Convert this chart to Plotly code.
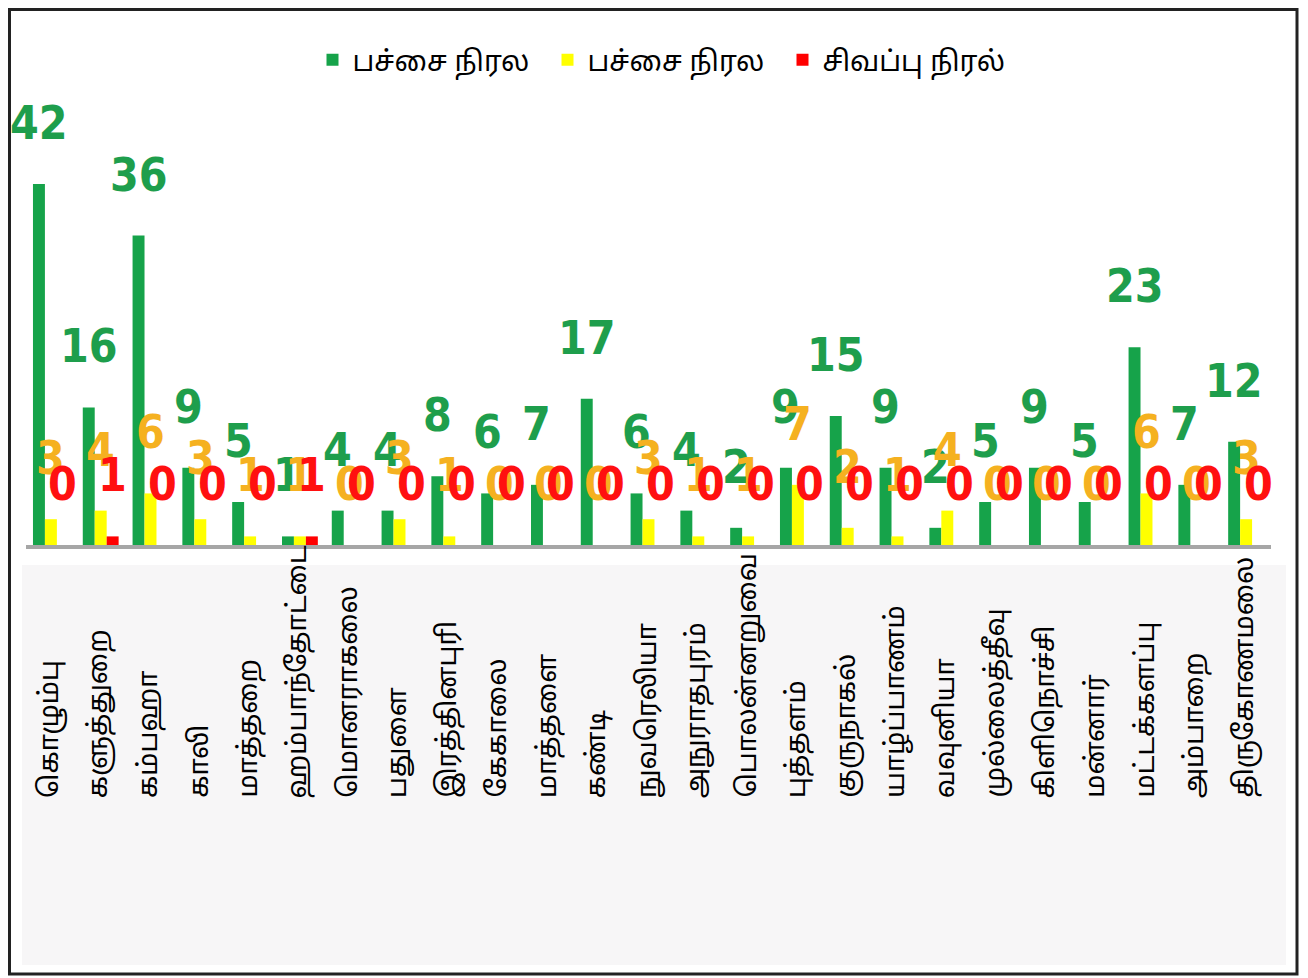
import plotly.graph_objects as go

districts = ["கொழும்பு", "களுத்துறை", "கம்பஹா", "காலி", "மாத்தறை", "ஹம்பாந்தோட்டை",
             "மொனராகலை", "பதுளை", "இரத்தினபுரி", "கேகாலை", "மாத்தளை", "கண்டி",
             "நுவரெலியா", "அநுராதபுரம்", "பொலன்னறுவை", "புத்தளம்", "குருநாகல்",
             "யாழ்ப்பாணம்", "வவுனியா", "முல்லைத்தீவு", "கிளிநொச்சி", "மன்னார்",
             "மட்டக்களப்பு", "அம்பாறை", "திருகோணமலை"]
green_vals = [42, 16, 36, 9, 5, 1, 4, 4, 8, 6, 7, 17, 6, 4, 2, 9, 15, 9, 2, 5, 9, 5, 23, 7, 12]
yellow_vals = [3, 4, 6, 3, 1, 1, 0, 3, 1, 0, 0, 0, 3, 1, 1, 7, 2, 1, 4, 0, 0, 0, 6, 0, 3]
red_vals = [0, 1, 0, 0, 0, 1, 0, 0, 0, 0, 0, 0, 0, 0, 0, 0, 0, 0, 0, 0, 0, 0, 0, 0, 0]
series_names = ["பச்சை நிரல", "பச்சை நிரல", "சிவப்பு நிரல்"]

bar_colors = ["#16a34a", "#ffff00", "#ff0000"]
label_colors = ["#1e9e4c", "#f5b120", "#ff1010"]
shifts = [-12, 0, 12]

# page is rendered with an 8px body margin; compensate
OFF = 8
W, H = 1300, 970
plot_left, plot_right, plot_top, plot_bottom = 26, 1271, 98, 545
ml = plot_left - OFF
mt = plot_top - OFF
mr = W - (plot_right - OFF)
mb = H - (plot_bottom - OFF)
pw = W - ml - mr
ph = H - mt - mb

def px_x(x):
    return (x - OFF - ml) / pw

def px_y(y):
    return (H - mb - (y - OFF)) / ph

fig = go.Figure()
all_vals = [green_vals, yellow_vals, red_vals]
for name, vals, col in zip(series_names, all_vals, bar_colors):
    fig.add_trace(go.Bar(x=districts, y=vals, name=name,
                         marker=dict(color=col, line=dict(width=0))))

annotations = []
num_font = "Liberation Sans Narrow, DejaVu Sans Condensed, Liberation Sans, sans-serif"
for vals, lc, sh in zip(all_vals, label_colors, shifts):
    for d, v in zip(districts, vals):
        annotations.append(dict(x=d, y=v, xref="x", yref="y", text="<b>%d</b>" % v, showarrow=False,
                                xshift=sh, yshift=32, yanchor="bottom", xanchor="center",
                                font=dict(family=num_font, size=46, color=lc)))
for d in districts:
    annotations.append(dict(x=d, y=px_y(800), xref="x", yref="paper", text=d, showarrow=False,
                            textangle=-90, yanchor="bottom", xanchor="center",
                            font=dict(family="Noto Sans Tamil, Latha, Noto Sans, sans-serif",
                                      size=27, color="#000000")))

shapes = [
    dict(type="rect", xref="paper", yref="paper", x0=px_x(22), x1=px_x(1286), y0=px_y(965), y1=px_y(565),
         fillcolor="#f7f6f7", line=dict(width=0), layer="below"),
    dict(type="rect", xref="paper", yref="paper", x0=px_x(9.5), x1=px_x(1297), y0=px_y(974), y1=px_y(9.5),
         fillcolor="rgba(0,0,0,0)", line=dict(color="#222222", width=3)),
]

fig.update_layout(
    width=W, height=H,
    margin=dict(l=ml, r=mr, t=mt, b=mb, autoexpand=False),
    paper_bgcolor="white", plot_bgcolor="white",
    barmode="group", bargap=0.28, bargroupgap=0,
    showlegend=True,
    legend=dict(orientation="h", x=px_x(665), xanchor="center", y=px_y(60), yanchor="middle",
                font=dict(family="Noto Sans Tamil, Latha, Noto Sans, sans-serif", size=28, color="#000000"),
                itemwidth=30, traceorder="normal", entrywidth=190),
    xaxis=dict(showticklabels=False, ticks="", showline=True, linecolor="#a6a6a6", linewidth=4,
               showgrid=False, zeroline=False, range=[-0.5, len(districts) - 0.5], fixedrange=True),
    yaxis=dict(range=[0, 52], visible=False, showgrid=False, zeroline=False),
    annotations=annotations,
    shapes=shapes,
)

fig.write_html("out.html")
